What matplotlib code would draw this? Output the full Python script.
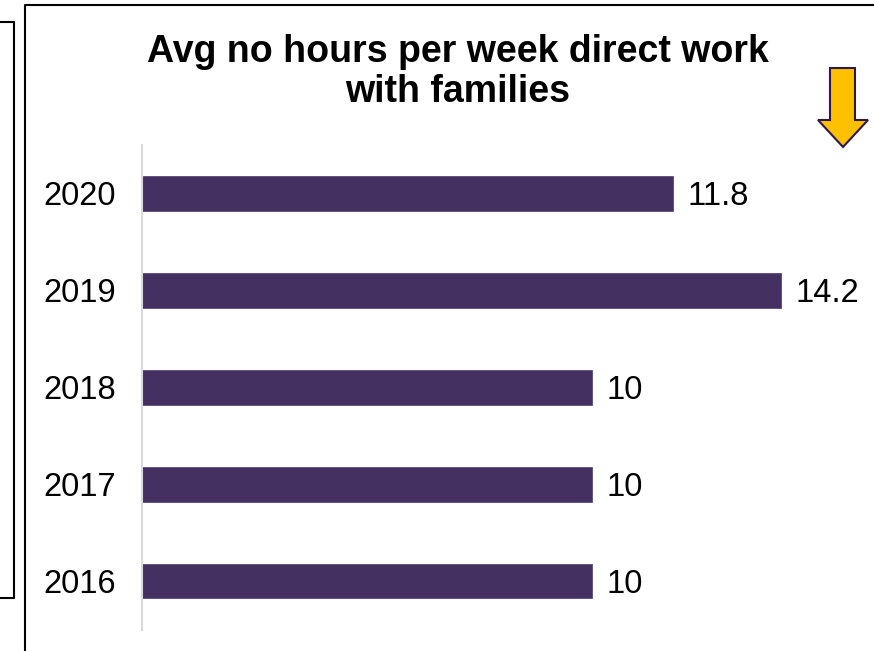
import matplotlib
matplotlib.use("Agg")
import matplotlib.pyplot as plt
from matplotlib.patches import Polygon
from matplotlib.lines import Line2D

plt.rcParams['font.family'] = ['Liberation Sans', 'DejaVu Sans']

years = ['2016', '2017', '2018', '2019', '2020']
hours = [10, 10, 10, 14.2, 11.8]
value_labels = ['10', '10', '10', '14.2', '11.8']

bar_color = '#443061'
W, H = 874, 651

fig = plt.figure(figsize=(W / 100, H / 100), dpi=100)

# plot area in pixel terms
left, right, top, bottom = 142, 817, 145, 629.5
ax = fig.add_axes([left / W, 1 - bottom / H, (right - left) / W, (bottom - top) / H])

ypos = range(len(years))
ax.barh(ypos, hours, height=0.36, color=bar_color, edgecolor='#5a4878', linewidth=0.6)
for y, v, lab in zip(ypos, hours, value_labels):
    ax.text(v + 0.33, y, lab, va='center_baseline', ha='left', fontsize=23.5)

ax.set_xlim(0, 15)
ax.set_ylim(-0.5, len(years) - 0.5)
ax.set_yticks(list(ypos))
ax.set_yticklabels(years, fontsize=23.5, va='center_baseline')
ax.tick_params(axis='y', length=0, pad=19)
ax.set_xticks([])
for s in ['top', 'right', 'bottom']:
    ax.spines[s].set_visible(False)
ax.spines['left'].set_color('#d9d9d9')
ax.spines['left'].set_linewidth(1.5)

fig.text(458 / W, 1 - 72 / H, 'Avg no hours per week direct work\nwith families',
         ha='center', va='center', fontsize=27, fontweight='bold', linespacing=1.12)

# down arrow at top right
def px(x, y):
    return (x / W, 1 - y / H)

arrow = [px(830, 68), px(855, 68), px(855, 120), px(868, 120), px(843, 147),
         px(818, 120), px(830, 120)]
fig.patches.append(Polygon(arrow, closed=True, transform=fig.transFigure,
                           facecolor='#FFC000', edgecolor='#2e1a4a', linewidth=1.5))

# frame lines
def frame(xs, ys):
    fig.add_artist(Line2D([x / W for x in xs], [1 - y / H for y in ys],
                          color='black', linewidth=1.5, transform=fig.transFigure))

frame([0, 14, 14, 0], [22, 22, 598, 598])
frame([25, 25, 874], [651, 5, 5])

fig.savefig('out.png', dpi=100)
